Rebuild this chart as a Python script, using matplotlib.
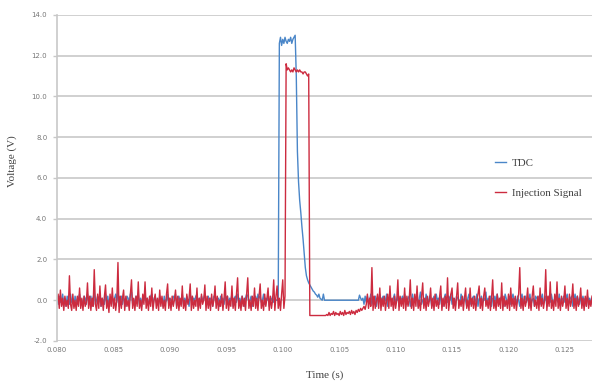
import matplotlib.pyplot as plt
import numpy as np

############################## Datos ########################

t0 = 0.0800
dt = 0.0001

# TDC (azul)
tdc_pre = [
    0.1, -0.2, 0.2, -0.1, 0.0, 0.3, -0.2, 0.1, -0.3, 0.2,
    0.0, -0.2, 0.3, -0.1, 0.1, -0.3, 0.2, 0.0, -0.2, 0.1,
    0.3, -0.1, 0.0, -0.3, 0.2, 0.1, -0.2, 0.3, 0.0, -0.1,
    0.2, -0.3, 0.1, 0.4, -0.2, 0.0, 0.2, -0.1, 0.3, -0.3,
    0.1, 0.0, -0.2, 0.3, -0.1, 0.2, -0.3, 0.1, 0.0, 0.2,
    -0.2, 0.1, 0.3, -0.1, 0.5, -0.3, 0.0, 0.2, -0.2, 0.1,
    0.0, -0.3, 0.2, 0.1, -0.1, 0.3, 0.4, -0.2, 0.0, -0.1,
    0.2, 0.0, 0.3, -0.2, 0.1, -0.3, 0.2, 0.0, 0.3, -0.1,
    0.1, -0.2, 0.0, 0.2, 0.3, -0.3, 0.1, 0.2, -0.1, 0.0,
    -0.2, 0.2, 0.0, 0.1, -0.3, 0.2, -0.1, 0.0, 0.3, -0.2,
    0.1, 0.0, -0.2, 0.2, 0.1, 0.3, -0.3, 0.0, 0.2, -0.1,
    0.0, 0.3, -0.2, 0.1, -0.1, 0.2, 0.0, -0.3, 0.3, 0.1,
    -0.2, 0.1, 0.0, 0.2, 0.3, -0.3, 0.1, -0.1, 0.2, 0.0,
    0.1, 0.3, -0.2, 0.0, 0.2, -0.1, 0.1, 0.0, -0.3, 0.2,
    0.2, -0.1, 0.0, 0.1, -0.3, 0.2, 0.0, 0.1, -0.2, 0.3,
    0.0, 0.2, -0.2, 0.1, 0.0, 0.3, -0.3, 0.1, 0.2, -0.1,
    0.3, 0.0, 0.1, -0.2, 0.2, 0.0, -0.3, 0.1, 0.3, 0.2,
    -0.1, 0.0, 0.2, -0.3, 0.1, 0.0, 0.2, -0.2, 0.3, 0.1,
    0.2, -0.1, 0.0, 0.3, -0.2, 0.1, 0.0, 0.2, -0.3, 0.1,
    0.0, 0.2, -0.1, 0.1, 0.0, 0.0, 0.0, 12.6, 12.9, 12.5,
]
tdc_pulse = [
    12.8, 12.6, 12.9, 12.7, 12.6, 12.8, 12.7, 12.9, 12.6, 12.8,
    12.9, 13.0, 11.0, 7.3, 5.8, 4.9, 4.3, 3.6, 3.0, 2.3,
    1.6, 1.2, 1.0, 0.85, 0.75, 0.65, 0.55, 0.45, 0.4, 0.3,
    0.25, 0.15, 0.3, 0.1, 0.05, 0.0, 0.3, 0.0, 0.0, 0.0,
    0.0, 0.0, 0.0, 0.0, 0.0, 0.0, 0.0, 0.0, 0.0, 0.0,
    0.0, 0.0, 0.0, 0.0, 0.0, 0.0, 0.0, 0.0, 0.0, 0.0,
    0.0, 0.0, 0.0, 0.0, 0.0, 0.0, 0.0, 0.0, 0.25, 0.1,
    0.0, 0.1, -0.2, 0.2, -0.1,
]
tdc_post = [
    0.2, -0.1, 0.0, 0.3, -0.2, 0.1, 0.0, 0.2, -0.3, 0.1,
    0.0, 0.3, -0.2, 0.1, 0.2, -0.1, 0.0, 0.3, -0.3, 0.1,
    0.2, 0.0, -0.2, 0.1, 0.3, -0.1, 0.0, 0.2, -0.3, 0.1,
    0.0, 0.2, -0.1, 0.3, 0.0, -0.2, 0.1, 0.2, -0.3, 0.0,
    0.3, -0.1, 0.1, 0.0, 0.2, -0.3, 0.1, 0.4, -0.2, 0.0,
    0.1, -0.2, 0.3, 0.0, -0.1, 0.2, 0.1, -0.3, 0.0, 0.2,
    -0.1, 0.3, 0.0, 0.1, -0.2, 0.2, 0.0, -0.3, 0.1, 0.3,
    0.0, -0.1, 0.2, 0.0, 0.3, -0.2, 0.1, 0.0, -0.3, 0.2,
    0.1, 0.0, -0.2, 0.3, 0.1, -0.1, 0.2, 0.0, -0.3, 0.1,
    0.3, -0.2, 0.0, 0.1, 0.2, -0.1, 0.0, 0.3, -0.3, 0.1,
    0.0, 0.2, -0.1, 0.1, 0.0, 0.4, -0.2, 0.1, 0.0, 0.2,
    -0.3, 0.1, 0.0, 0.2, -0.1, 0.3, 0.0, -0.2, 0.1, 0.2,
    0.0, -0.3, 0.3, 0.1, -0.1, 0.0, 0.2, -0.2, 0.1, 0.3,
    0.0, 0.1, -0.2, 0.2, 0.0, -0.3, 0.1, 0.3, -0.1, 0.0,
    0.2, -0.1, 0.1, 0.0, 0.3, -0.2, 0.0, 0.1, -0.3, 0.2,
    0.1, 0.0, 0.2, -0.2, 0.1, 0.3, -0.1, 0.0, 0.2, -0.3,
    0.0, 0.2, -0.1, 0.3, 0.0, -0.2, 0.1, 0.2, 0.0, -0.1,
    0.3, -0.3, 0.1, 0.0, 0.2, -0.1, 0.1, 0.3, -0.2, 0.0,
    0.1, 0.2, -0.3, 0.0, 0.3, -0.1, 0.2, 0.0, -0.2, 0.1,
    0.0, 0.2, -0.1, 0.1, -0.3, 0.2, 0.0, 0.1, -0.2, 0.1,
]

# Injection Signal (rojo)
inj_pre = [
    0.0, 0.3, -0.4, 0.5, -0.3, 0.1, -0.5, 0.2, -0.3, 0.0,
    -0.4, 1.2, -0.2, -0.5, 0.3, -0.4, 0.0, -0.5, 0.2, -0.3,
    0.6, -0.4, 0.1, -0.5, 0.2, -0.3, -0.1, 0.85, -0.4, 0.2,
    -0.5, 0.1, -0.3, 1.5, -0.2, -0.5, 0.3, -0.4, 0.7, -0.3,
    0.1, -0.5, 0.2, 0.75, -0.4, 0.0, -0.6, 0.3, -0.3, 0.6,
    -0.4, 0.1, -0.5, 0.0, 1.85, -0.6, 0.2, -0.4, 0.1, 0.5,
    -0.5, 0.2, -0.3, 0.0, -0.5, 0.3, 1.0, -0.4, 0.1, -0.5,
    0.2, -0.3, 0.9, -0.4, 0.0, -0.5, 0.3, -0.2, 0.9, -0.4,
    0.1, -0.5, 0.2, -0.3, 0.6, -0.5, 0.0, 0.3, -0.4, 0.1,
    -0.5, 0.5, -0.3, 0.2, -0.4, 0.0, -0.5, 0.3, 0.8, -0.4,
    0.1, -0.5, 0.2, -0.3, 0.0, 0.5, -0.4, 0.2, -0.5, 0.1,
    -0.3, 0.7, -0.4, 0.0, -0.5, 0.3, -0.2, 0.1, 0.8, -0.5,
    0.2, -0.4, 0.0, -0.3, 0.6, -0.5, 0.1, -0.4, 0.3, -0.2,
    0.0, 0.75, -0.5, 0.2, -0.4, 0.1, -0.5, 0.3, -0.3, 0.0,
    0.7, -0.4, 0.2, -0.5, 0.0, -0.3, 0.3, -0.5, 0.1, 0.9,
    -0.4, 0.2, -0.5, 0.0, -0.3, 0.7, -0.4, 0.1, -0.5, 0.3,
    1.1, -0.4, 0.0, -0.5, 0.2, -0.3, 0.1, -0.5, 0.3, 1.1,
    -0.4, 0.0, -0.5, 0.2, -0.3, 0.6, -0.4, 0.1, -0.5, 0.2,
    0.8, -0.4, 0.0, -0.5, 0.3, -0.3, 0.1, 0.6, -0.5, 0.2,
    -0.4, 0.0, 1.0, -0.5, 0.2, 0.7, -0.4, 0.1, -0.5, 0.3,
]
inj_pulse = [
    1.0, -0.4, 0.2, 11.6, 11.3, 11.4, 11.3, 11.2, 11.3, 11.2,
    11.4, 11.3, 11.2, 11.3, 11.2, 11.3, 11.2, 11.2, 11.1, 11.2,
    11.2, 11.1, 11.0, 11.1, -0.75, -0.75, -0.75, -0.75, -0.75, -0.75,
    -0.75, -0.75, -0.75, -0.75, -0.75, -0.75, -0.75, -0.75, -0.75, -0.7,
    -0.75, -0.6, -0.75, -0.65, -0.7, -0.55, -0.75, -0.6, -0.7, -0.65,
    -0.75, -0.55, -0.7, -0.6, -0.75, -0.5, -0.7, -0.6, -0.65, -0.55,
    -0.7, -0.5, -0.65, -0.55, -0.7, -0.5, -0.6, -0.45, -0.55, -0.4,
    -0.5, -0.4, -0.3, -0.45, -0.2,
]
inj_post = [
    0.3, -0.4, 0.1, -0.3, 1.6, -0.5, 0.2, -0.4, 0.0, 0.3,
    -0.4, 0.6, -0.5, 0.1, -0.3, 0.2, -0.5, 0.0, 0.3, -0.4,
    0.7, -0.3, 0.1, -0.5, 0.2, -0.4, 0.0, 1.0, -0.5, 0.2,
    -0.3, 0.1, -0.4, 0.6, -0.5, 0.2, -0.3, 0.0, 1.0, -0.4,
    0.1, -0.5, 0.3, -0.3, 0.7, -0.4, 0.0, -0.5, 0.2, 0.85,
    -0.4, 0.1, -0.5, 0.2, -0.3, 0.0, 0.6, -0.4, 0.1, -0.5,
    0.3, -0.3, 0.0, -0.4, 0.2, 0.7, -0.5, 0.1, -0.3, 0.2,
    -0.4, 1.1, -0.5, 0.0, 0.3, 0.6, -0.4, 0.1, -0.5, 0.2,
    0.85, -0.4, 0.0, -0.3, 0.2, -0.5, 0.1, 0.6, -0.4, 0.0,
    -0.5, 0.6, -0.3, 0.1, -0.4, 0.2, -0.5, 0.0, 0.3, 0.7,
    -0.4, 0.1, -0.5, 0.2, 0.6, -0.3, 0.0, -0.4, 0.2, -0.5,
    0.1, 1.0, -0.4, 0.0, -0.5, 0.3, -0.3, 0.1, -0.4, 0.85,
    -0.5, 0.2, -0.3, 0.0, -0.4, 0.3, -0.5, 0.6, -0.3, 0.1,
    -0.4, 0.2, -0.5, 0.0, 0.3, 1.6, -0.4, 0.1, -0.5, 0.2,
    -0.3, 0.0, 0.6, -0.4, 0.1, -0.5, 0.2, 0.7, -0.3, 0.0,
    -0.4, 0.2, -0.5, 0.6, -0.3, 0.1, -0.4, 0.0, 1.5, -0.5,
    0.2, -0.3, 0.9, -0.4, 0.0, -0.5, 0.3, -0.3, 0.9, -0.4,
    0.1, -0.5, 0.2, -0.3, 0.0, 0.7, -0.4, 0.1, -0.5, 0.3,
    -0.3, 0.0, 0.8, -0.4, 0.1, -0.5, 0.2, -0.3, 0.0, 0.6,
    -0.4, 0.1, -0.5, 0.2, -0.3, 0.5, -0.4, 0.0, -0.3, 0.2,
]

tdc = np.array(tdc_pre + tdc_pulse + tdc_post)
inj = np.array(inj_pre + inj_pulse + inj_post)
t = t0 + dt*np.arange(len(tdc))

xticks = [0.080, 0.085, 0.090, 0.095, 0.100, 0.105, 0.110, 0.115, 0.120, 0.125]
yticks = [-2.0, 0.0, 2.0, 4.0, 6.0, 8.0, 10.0, 12.0, 14.0]

###################### Figura ######################
fig = plt.figure(figsize=(5.92, 3.81), dpi=100)
ax = fig.add_axes([0.0963, 0.105, 0.9037, 0.856])

ax.plot(t, tdc, color='#4a86c8', lw=1.0, label='TDC')
ax.plot(t, inj, color='#cc2b3f', lw=1.0, label='Injection Signal')

ax.set_xlim(0.080, 0.1274)
ax.set_ylim(-2.0, 14.0)
ax.set_xticks(xticks)
ax.set_yticks(yticks)
ax.set_xticklabels([f'{v:.3f}' for v in xticks])
ax.set_yticklabels([f'{v:.1f}' for v in yticks])
ax.tick_params(axis='both', labelsize=5, colors='#777777', length=0, pad=4)
ax.tick_params(axis='y', length=3, color='#c8c8c8', width=1.0)

ax.grid(axis='y', color='#c8c8c8', lw=1.2)
ax.set_axisbelow(True)
for s in ['top', 'right', 'bottom']:
    ax.spines[s].set_visible(False)
ax.spines['left'].set_color('#c8c8c8')
ax.spines['left'].set_linewidth(1.2)

ax.set_xlabel('Time (s)', family='Liberation Serif', fontsize=8, color='#404040')
ax.set_ylabel('Voltage (V)', family='Liberation Serif', fontsize=8, color='#404040')
ax.xaxis.set_label_coords(0.5, -0.09)
ax.yaxis.set_label_coords(-0.075, 0.55)

ax.legend(loc='upper left', bbox_to_anchor=(0.8, 0.59), frameon=False,
          handlelength=1.0, handletextpad=0.6, labelspacing=1.9,
          prop={'family': 'Liberation Serif', 'size': 7.8}, labelcolor='#404040')

fig.savefig('out.png', dpi=100)
